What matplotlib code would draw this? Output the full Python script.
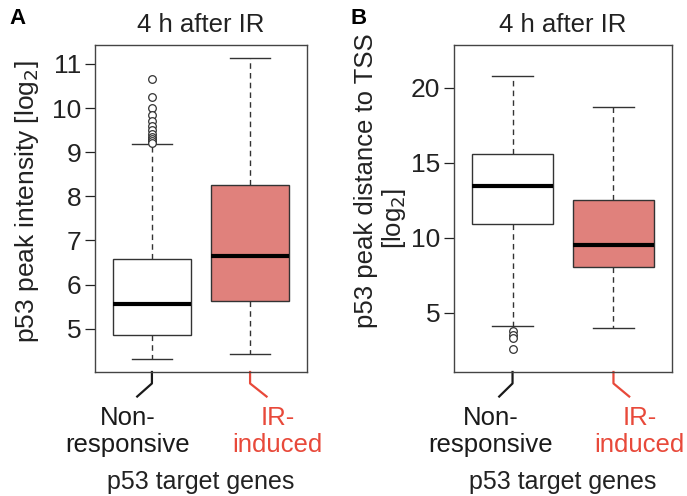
import numpy as np
import matplotlib.pyplot as plt
from matplotlib.transforms import blended_transform_factory

plt.rcParams['font.family'] = ['Liberation Sans', 'DejaVu Sans']

# Box statistics
groups = ["Non-\nresponsive", "IR-\ninduced"]
group_colors = ["#1a1a1a", "#e8493a"]
box_fill = ["white", "#e0817c"]

# panel A: p53 peak intensity [log2]
a_whislo = [4.31, 4.42]
a_q1 = [4.85, 5.63]
a_med = [5.55, 6.65]
a_q3 = [6.58, 8.26]
a_whishi = [9.18, 11.14]
a_fliers = [[10.67, 10.26, 10.0, 9.85, 9.7, 9.6, 9.5, 9.42, 9.35, 9.3, 9.25, 9.21], []]

# panel B: p53 peak distance to TSS [log2]
b_whislo = [4.1, 4.01]
b_q1 = [10.9, 8.02]
b_med = [13.45, 9.5]
b_q3 = [15.6, 12.5]
b_whishi = [20.78, 18.73]
b_fliers = [[3.78, 3.5, 3.3, 2.6], []]


def make_stats(lo, q1, med, q3, hi, fl):
    return [dict(whislo=lo[i], q1=q1[i], med=med[i], q3=q3[i], whishi=hi[i],
                 fliers=fl[i]) for i in range(len(lo))]


def draw_panel(ax, stats, ylim, yticks, offsets):
    res = ax.bxp(stats, positions=[1, 2], widths=0.8, patch_artist=True,
                 capwidths=0.4,
                 boxprops=dict(edgecolor="#333333", linewidth=1.0),
                 medianprops=dict(color="black", linewidth=3),
                 whiskerprops=dict(color="#333333", linestyle=(0, (4, 3)), linewidth=1.0),
                 capprops=dict(color="#333333", linewidth=1.0),
                 flierprops=dict(marker="o", markerfacecolor="white",
                                 markeredgecolor="#333333", markersize=5.5, markeredgewidth=0.9))
    for patch, c in zip(res["boxes"], box_fill):
        patch.set_facecolor(c)
    ax.set_xlim(0.42, 2.58)
    ax.set_ylim(*ylim)
    ax.set_yticks(yticks)
    ax.set_xticks([])
    ax.tick_params(axis="y", labelsize=19, length=7, width=0.9, pad=3, colors="#222222")
    for s in ax.spines.values():
        s.set_color("#444444")
        s.set_linewidth(1.0)
    ax.set_title("4 h after IR", fontsize=18.5, pad=9, color="#222222")

    # bent tick marks and group labels
    tr = blended_transform_factory(ax.transData, ax.transAxes)
    for i, (lab, col, off) in enumerate(zip(groups, group_colors, offsets)):
        x = i + 1
        ax.plot([x, x, x + off * 0.6], [0, -0.035, -0.075], color=col, lw=1.6,
                transform=tr, clip_on=False)
        ax.text(x + off, -0.105, lab, transform=tr, ha="center", va="top",
                fontsize=18.5, color=col, linespacing=1.15)
    ax.text(1.5, -0.30, "p53 target genes", transform=tr, ha="center", va="top",
            fontsize=18, color="#222222")


fig = plt.figure(figsize=(6.87, 4.96), dpi=100)
axA = fig.add_axes([95 / 687, 1 - 372 / 496, 212 / 687, 327 / 496])
axB = fig.add_axes([454 / 687, 1 - 372 / 496, 218 / 687, 327 / 496])

draw_panel(axA, make_stats(a_whislo, a_q1, a_med, a_q3, a_whishi, a_fliers),
           (4.02, 11.43), [5, 6, 7, 8, 9, 10, 11], [-0.25, 0.28])
draw_panel(axB, make_stats(b_whislo, b_q1, b_med, b_q3, b_whishi, b_fliers),
           (1.05, 22.85), [5, 10, 15, 20], [-0.22, 0.26])

fig.text(27 / 687, 1 - 202 / 496, "p53 peak intensity [log$_2$]", rotation=90,
         ha="center", va="center", fontsize=19, color="#222222")
fig.text(366 / 687, 1 - 181 / 496, "p53 peak distance to TSS", rotation=90,
         ha="center", va="center", fontsize=18.5, color="#222222")
fig.text(394 / 687, 1 - 218 / 496, "[log$_2$]", rotation=90,
         ha="center", va="center", fontsize=18.5, color="#222222")

fig.text(9 / 687, 1 - 18 / 496, "A", fontsize=16, fontweight="bold", va="center")
fig.text(350 / 687, 1 - 18 / 496, "B", fontsize=16, fontweight="bold", va="center")

fig.savefig("out.png", dpi=100)
